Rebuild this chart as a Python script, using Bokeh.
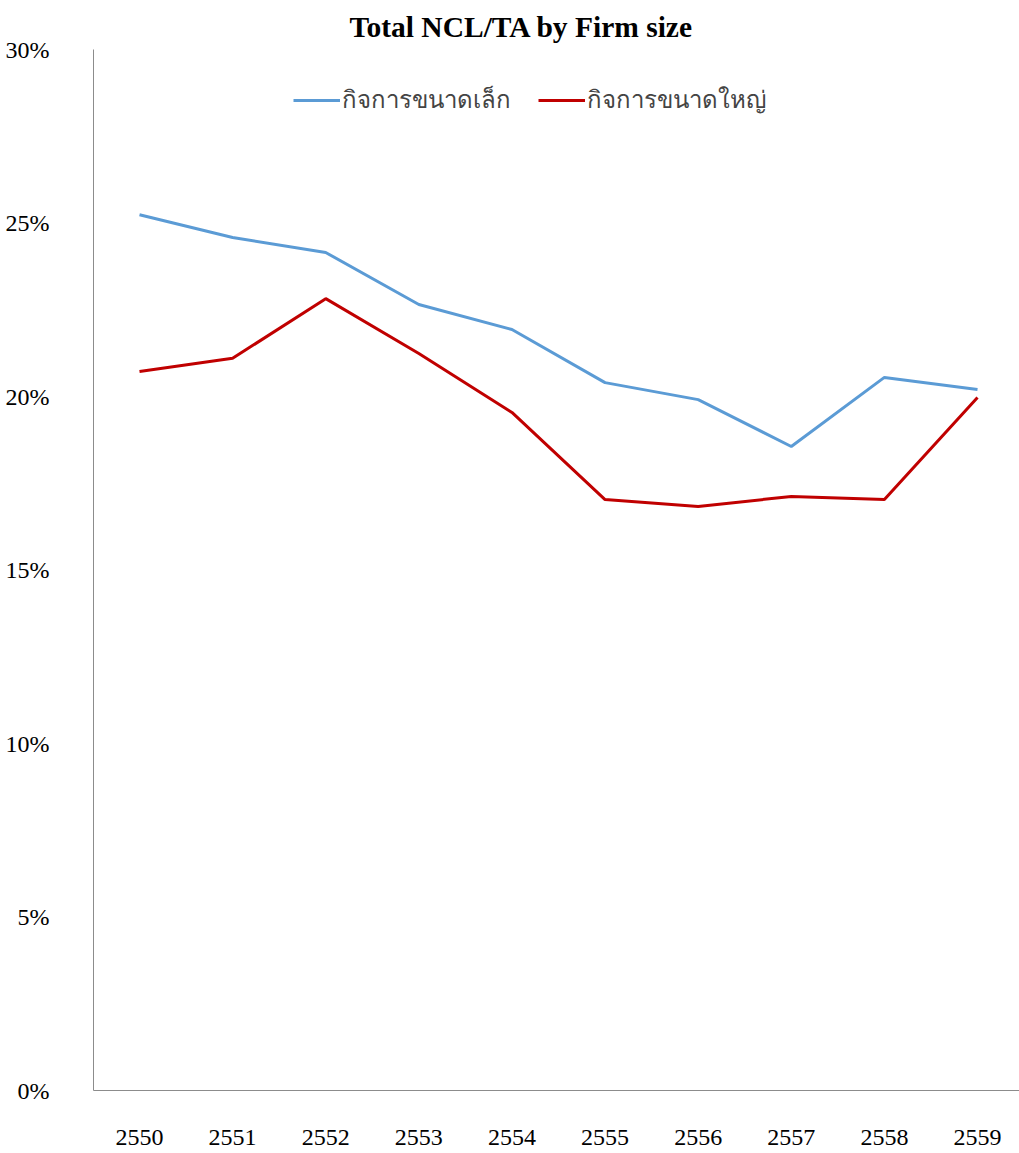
from bokeh.plotting import figure
from bokeh.models import Range1d, FixedTicker, NumeralTickFormatter, Legend, LegendItem
from bokeh.embed import file_html
from bokeh.resources import INLINE

years = [2550, 2551, 2552, 2553, 2554, 2555, 2556, 2557, 2558, 2559]
small_firms = [0.2524, 0.2458, 0.2415, 0.2265, 0.2193, 0.2040, 0.1991, 0.1856, 0.2055, 0.2020]
large_firms = [0.2072, 0.2110, 0.2282, 0.2124, 0.1954, 0.1703, 0.1683, 0.1712, 0.1703, 0.1997]
y_ticks = [0.0, 0.05, 0.10, 0.15, 0.20, 0.25, 0.30]
label_small = "กิจการขนาดเล็ก"
label_large = "กิจการขนาดใหญ่"
title_text = "Total NCL/TA by Firm size"

SERIF = "Liberation Serif"

p = figure(width=1019, height=1153, output_backend="svg", toolbar_location=None,
           x_range=Range1d(2549.506, 2559.451), y_range=Range1d(0, 0.30),
           min_border_left=93, min_border_right=0, min_border_top=49, min_border_bottom=63)

p.title.text = title_text
p.title.text_font = SERIF
p.title.text_font_size = "29.5px"
p.title.text_font_style = "bold"
p.title.align = "left"
p.title.offset = 256
p.title.standoff = 13
p.title.text_color = "#000000"

p.xgrid.visible = False
p.ygrid.visible = False
p.outline_line_color = None
p.background_fill_color = "white"
p.border_fill_color = "white"

axis_color = "#8c8c8c"
p.xaxis.ticker = FixedTicker(ticks=years)
p.xaxis.axis_line_color = axis_color
p.xaxis.major_tick_line_color = None
p.xaxis.minor_tick_line_color = None
p.xaxis.major_label_text_font = SERIF
p.xaxis.major_label_text_font_size = "24px"
p.xaxis.major_label_text_color = "#000000"
p.xaxis.major_label_standoff = 33

p.yaxis.ticker = FixedTicker(ticks=y_ticks)
p.yaxis.formatter = NumeralTickFormatter(format="0%")
p.yaxis.axis_line_color = axis_color
p.yaxis.major_tick_line_color = None
p.yaxis.minor_tick_line_color = None
p.yaxis.major_label_text_font = SERIF
p.yaxis.major_label_text_font_size = "24px"
p.yaxis.major_label_text_color = "#000000"
p.yaxis.major_label_standoff = 38

r1 = p.line(years, small_firms, line_color="#5B9BD5", line_width=3)
r2 = p.line(years, large_firms, line_color="#C00000", line_width=3)

legend = Legend(items=[LegendItem(label=label_small, renderers=[r1]),
                       LegendItem(label=label_large, renderers=[r2])],
                orientation="horizontal", location=(200, 971),
                border_line_alpha=0, background_fill_alpha=0,
                label_text_font=SERIF, label_text_font_size="24px",
                glyph_width=47, glyph_height=24, label_height=24,
                label_standoff=2, spacing=27, padding=0, margin=0)
p.add_layout(legend, "center")

open("out.html", "w").write(file_html(p, INLINE))
